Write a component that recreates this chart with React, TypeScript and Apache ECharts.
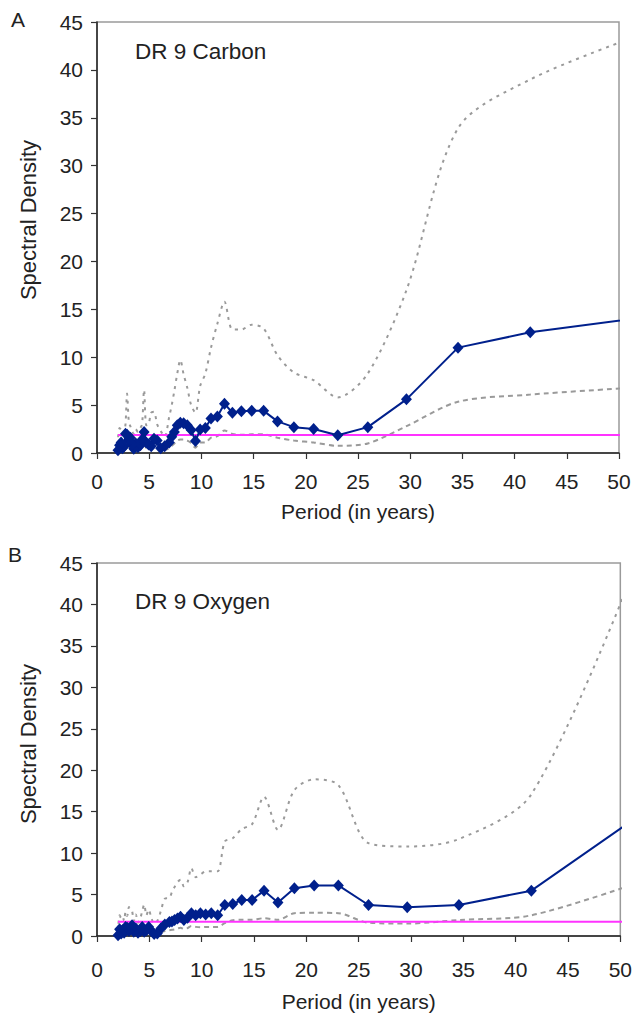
import React, { useEffect, useRef } from "react";
import * as echarts from "echarts";

// Period (years) of each spectral estimate
const periods = [
  51.88, 41.5, 34.58, 29.64, 25.94, 23.06, 20.75, 18.86, 17.29, 15.96,
  14.82, 13.83, 12.97, 12.21, 11.53, 10.92, 10.38, 9.88, 9.43, 9.02,
  8.65, 8.3, 7.98, 7.69, 7.41, 7.16,
  6.92, 6.48, 6.1, 5.76, 5.46, 5.19, 4.94, 4.72, 4.51, 4.32,
  4.15, 3.92, 3.71, 3.52, 3.35, 3.19, 3.05, 2.88, 2.73, 2.59,
  2.44, 2.31, 2.16, 2.01,
];

// Panel A: DR 9 Carbon
const carbonDensity = [
  14.1, 12.6, 11.0, 5.6, 2.7, 1.85, 2.5, 2.7, 3.3, 4.4,
  4.4, 4.35, 4.2, 5.15, 3.8, 3.6, 2.6, 2.45, 1.25, 2.4,
  2.9, 3.1, 3.15, 2.9, 2.2, 1.7,
  1.1, 0.7, 0.5, 1.3, 1.5, 0.7, 0.9, 1.1, 2.2, 1.4,
  0.8, 0.6, 1.0, 0.45, 0.9, 1.6, 1.3, 1.9, 2.0, 0.7,
  0.5, 1.1, 0.8, 0.3,
];
const carbonUpper = [
  43.6, 39.0, 33.9, 17.0, 8.3, 5.8, 7.6, 8.4, 10.2, 13.0,
  13.4, 12.9, 12.9, 15.8, 13.5, 11.0, 8.3, 7.0, 4.2, 5.0,
  6.8, 8.2, 9.7, 8.3, 6.5, 5.0,
  3.8, 1.7, 2.3, 3.0, 4.3, 4.2, 3.0, 2.9, 6.6, 3.0,
  2.6, 2.2, 2.5, 2.0, 2.3, 2.8, 3.2, 6.2, 3.0, 2.2,
  2.0, 2.4, 2.6, 1.5,
];
const carbonLower = [
  6.85, 6.1, 5.35, 2.8, 1.0, 0.75, 1.1, 1.3, 1.6, 1.95,
  1.95, 1.9, 2.0, 2.35, 1.75, 1.6, 1.1, 1.1, 0.55, 1.05,
  1.3, 1.4, 1.4, 1.3, 1.0, 0.75,
  0.5, 0.3, 0.2, 0.6, 0.7, 0.3, 0.4, 0.5, 1.0, 0.6,
  0.35, 0.3, 0.45, 0.2, 0.4, 0.7, 0.6, 0.85, 0.9, 0.3,
  0.25, 0.5, 0.4, 0.15,
];
const carbonThreshold = 1.88;

// Panel B: DR 9 Oxygen
const oxygenDensity = [
  14.6, 5.47, 3.74, 3.46, 3.74, 6.1, 6.1, 5.76, 4.05, 5.47,
  4.35, 4.35, 3.86, 3.74, 2.5, 2.74, 2.6, 2.74, 2.5, 2.74,
  2.2, 1.93, 2.33, 2.1, 1.93, 1.75,
  1.7, 1.4, 0.9, 0.3, 0.25, 0.6, 1.1, 0.7, 0.5, 1.1,
  0.6, 0.4, 0.9, 0.5, 1.3, 0.8, 0.6, 1.0, 1.1, 0.4,
  0.7, 0.3, 0.8, 0.1,
];
const oxygenUpper = [
  46.0, 17.1, 11.7, 10.8, 11.2, 18.2, 18.9, 17.6, 12.8, 16.8,
  13.5, 12.9, 11.8, 11.4, 7.8, 7.8, 7.8, 7.4, 7.1, 8.2,
  6.5, 6.0, 6.8, 6.5, 5.9, 5.3,
  4.6, 4.5, 3.0, 1.8, 1.5, 2.2, 3.2, 2.5, 3.8, 3.0,
  2.2, 1.6, 2.6, 1.8, 3.0, 3.2, 3.5, 2.4, 2.9, 1.8,
  2.4, 2.2, 2.5, 0.6,
];
const oxygenLower = [
  6.5, 2.5, 1.93, 1.5, 1.6, 2.75, 2.8, 2.75, 1.95, 2.15,
  1.95, 1.95, 1.9, 1.55, 1.1, 1.1, 1.1, 1.05, 1.1, 1.2,
  0.95, 0.85, 1.0, 0.9, 0.8, 0.75,
  0.7, 0.6, 0.4, 0.15, 0.1, 0.25, 0.45, 0.3, 0.2, 0.45,
  0.25, 0.15, 0.4, 0.2, 0.55, 0.35, 0.25, 0.4, 0.45, 0.15,
  0.3, 0.1, 0.35, 0.05,
];
const oxygenThreshold = 1.73;

const panelLetters = ["A", "B"];
const panelTitles = ["DR 9 Carbon", "DR 9 Oxygen"];
const xTitle = "Period (in years)";
const yTitle = "Spectral Density";

export default function App() {
  const ref = useRef<HTMLDivElement>(null);

  useEffect(() => {
    const chart = echarts.init(ref.current!, null, { renderer: "svg" });
    const font = "'Liberation Sans', Arial, sans-serif";
    const pair = (vals: number[]) => periods.map((p, i) => [p, vals[i]]);
    const grids = [
      { left: 97, top: 22, width: 522, height: 431 },
      { left: 97, top: 563, width: 526, height: 373 },
    ];
    const layout = [
      { labelMargin: 18, nameGap: 48, letterTop: 9, titleTop: 40, yTitleY: 220 },
      { labelMargin: 23, nameGap: 55, letterTop: 544, titleTop: 590, yTitleY: 744 },
    ];
    const panels = [
      { d: carbonDensity, u: carbonUpper, l: carbonLower, t: carbonThreshold },
      { d: oxygenDensity, u: oxygenUpper, l: oxygenLower, t: oxygenThreshold },
    ];

    const xAxis = grids.map((_, i) => ({
      type: "value",
      gridIndex: i,
      min: 0,
      max: 50,
      interval: 5,
      splitLine: { show: false },
      axisLine: { show: true, onZero: false, lineStyle: { color: "#222", width: 1.5 } },
      axisTick: { show: true, inside: false, length: 6, lineStyle: { color: "#333", width: 1.2 } },
      axisLabel: { fontSize: 21, color: "#222", fontFamily: font, margin: layout[i].labelMargin },
      name: xTitle,
      nameLocation: "middle",
      nameGap: layout[i].nameGap,
      nameTextStyle: { fontSize: 21, color: "#222", fontFamily: font },
    }));
    const yAxis = grids.map((_, i) => ({
      type: "value",
      gridIndex: i,
      min: 0,
      max: 45,
      interval: 5,
      splitLine: { show: false },
      axisLine: { show: true, onZero: false, lineStyle: { color: "#222", width: 1.5 } },
      axisTick: { show: true, inside: false, length: 6, lineStyle: { color: "#333", width: 1.2 } },
      axisLabel: { fontSize: 21, color: "#222", fontFamily: font, margin: 14 },
    }));

    const series: any[] = [];
    panels.forEach((p, i) => {
      series.push({
        type: "line",
        xAxisIndex: i,
        yAxisIndex: i,
        data: pair(p.u),
        symbol: "none",
        smooth: 0.3,
        lineStyle: { color: "#9a9a9a", width: 2, type: [3, 5] },
        z: 2,
      });
      series.push({
        type: "line",
        xAxisIndex: i,
        yAxisIndex: i,
        data: pair(p.l),
        symbol: "none",
        smooth: 0.3,
        lineStyle: { color: "#9a9a9a", width: 2, type: [5, 4] },
        z: 2,
      });
      series.push({
        type: "line",
        xAxisIndex: i,
        yAxisIndex: i,
        data: [
          [periods[periods.length - 1], p.t],
          [periods[0], p.t],
        ],
        symbol: "none",
        lineStyle: { color: "#ff33ff", width: 2 },
        z: 3,
      });
      series.push({
        type: "line",
        xAxisIndex: i,
        yAxisIndex: i,
        data: pair(p.d),
        symbol: "diamond",
        symbolSize: [11, 12],
        itemStyle: { color: "#00208c" },
        lineStyle: { color: "#00208c", width: 2 },
        z: 4,
      });
    });

    const graphic: any[] = [];
    grids.forEach((g, i) => {
      graphic.push({
        type: "text",
        left: i === 0 ? 11 : 8,
        top: layout[i].letterTop,
        style: { text: panelLetters[i], fontSize: 21, fill: "#222", fontFamily: font },
      });
      graphic.push({
        type: "text",
        left: 135,
        top: layout[i].titleTop,
        style: { text: panelTitles[i], fontSize: 22.5, fill: "#222", fontFamily: font },
      });
      graphic.push({
        type: "text",
        x: 28,
        y: layout[i].yTitleY,
        rotation: Math.PI / 2,
        style: {
          text: yTitle,
          fontSize: 22,
          fill: "#222",
          fontFamily: font,
          align: "center",
          verticalAlign: "middle",
        },
      });
    });

    chart.setOption({
      animation: false,
      backgroundColor: "#fff",
      grid: grids.map((g) => ({
        ...g,
        show: true,
        borderColor: "#9a9a9a",
        borderWidth: 1.5,
        backgroundColor: "transparent",
      })),
      xAxis,
      yAxis,
      series,
      graphic,
    });
    return () => chart.dispose();
  }, []);

  return (
    <div
      ref={ref}
      style={{ position: "absolute", left: 0, top: 0, width: 635, height: 1016 }}
    />
  );
}
